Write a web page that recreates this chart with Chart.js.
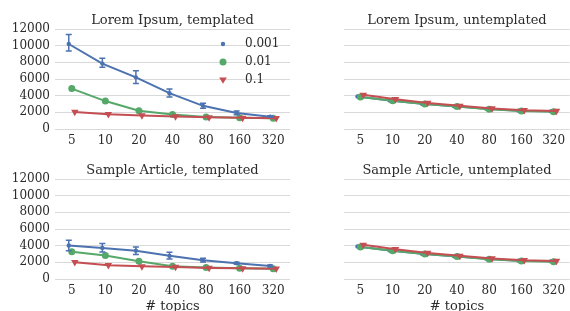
<!DOCTYPE html>
<html>
<head>
<meta charset="utf-8">
<script src="https://cdn.jsdelivr.net/npm/chart.js@4.4.0/dist/chart.umd.min.js"></script>
<style>
  html, body { margin: 0; padding: 0; background: #fff; overflow: hidden; width: 570px; height: 311px; }
  .panel { position: absolute; }
</style>
</head>
<body>
<div class="panel" style="left:0;top:0"><canvas id="lorem_tpl" width="300" height="150"></canvas></div>
<div class="panel" style="left:340px;top:0"><canvas id="lorem_unt" width="234" height="150"></canvas></div>
<div class="panel" style="left:0;top:150px"><canvas id="sample_tpl" width="300" height="164"></canvas></div>
<div class="panel" style="left:340px;top:150px"><canvas id="sample_unt" width="234" height="164"></canvas></div>
<script>
// x categories and series names
const topics = ["5", "10", "20", "40", "80", "160", "320"];
const seriesNames = ["0.001", "0.01", "0.1"];
const yTicks = [0, 2000, 4000, 6000, 8000, 10000, 12000];

// Lorem Ipsum, templated
const loremTplBlue = [10200, 7850, 6200, 4300, 2780, 1920, 1480];
const loremTplBlueLo = [9350, 7400, 5450, 3850, 2500, 1700, 1400];
const loremTplBlueHi = [11350, 8500, 7000, 4800, 3100, 2150, 1580];
const loremTplGreen = [4850, 3350, 2200, 1750, 1450, 1350, 1300];
const loremTplRed = [2050, 1780, 1620, 1500, 1400, 1340, 1300];

// Lorem Ipsum, untemplated
const loremUntBlue = [3900, 3420, 3030, 2720, 2420, 2200, 2120];
const loremUntGreen = [3850, 3400, 3000, 2700, 2380, 2170, 2080];
const loremUntRed = [4100, 3580, 3120, 2780, 2460, 2250, 2170];

// Sample Article, templated
const sampleTplBlue = [4020, 3730, 3400, 2780, 2260, 1890, 1560];
const sampleTplBlueLo = [3400, 3250, 2950, 2400, 2050, 1780, 1450];
const sampleTplBlueHi = [4650, 4250, 3850, 3200, 2480, 2020, 1680];
const sampleTplGreen = [3280, 2830, 2130, 1530, 1370, 1290, 1240];
const sampleTplRed = [2010, 1660, 1520, 1440, 1320, 1280, 1240];

// Sample Article, untemplated
const sampleUntBlue = [3900, 3420, 3030, 2720, 2420, 2200, 2120];
const sampleUntGreen = [3850, 3400, 3000, 2700, 2380, 2170, 2080];
const sampleUntRed = [4100, 3580, 3120, 2780, 2460, 2250, 2170];

const colors = ["#4C72B0", "#55A868", "#C44E52"];
const dodge = [-0.09, 0, 0.09];
const pointSizes = [2.2, 3.5, 4.3];
const FONT = "'DejaVu Serif', serif";
const TEXT = "#2b2b2b";

function drawMarker(ctx, i, x, y) {
  ctx.save();
  ctx.fillStyle = colors[i];
  ctx.beginPath();
  if (i === 2) {
    const r = pointSizes[i];
    ctx.moveTo(x - r * 0.9, y - r * 0.6);
    ctx.lineTo(x + r * 0.9, y - r * 0.6);
    ctx.lineTo(x, y + r * 0.9);
    ctx.closePath();
  } else {
    ctx.arc(x, y, pointSizes[i], 0, Math.PI * 2);
  }
  ctx.fill();
  ctx.restore();
}

// panel titles, centred over the plot area
const panelTitle = {
  id: "panelTitle",
  afterDraw(chart, args, opts) {
    const { ctx, chartArea } = chart;
    ctx.save();
    ctx.font = "13px " + FONT;
    ctx.fillStyle = TEXT;
    ctx.textAlign = "center";
    ctx.textBaseline = "alphabetic";
    ctx.fillText(opts.text, (chartArea.left + chartArea.right) / 2, chartArea.top - 5);
    ctx.restore();
  }
};

// vertical error bars with caps
const errorBars = {
  id: "errorBars",
  afterDatasetsDraw(chart) {
    const { ctx } = chart;
    const yScale = chart.scales.y;
    chart.data.datasets.forEach((ds, di) => {
      if (!ds.errLo) return;
      const meta = chart.getDatasetMeta(di);
      ctx.save();
      ctx.strokeStyle = ds.borderColor;
      ctx.lineWidth = 1.5;
      meta.data.forEach((pt, i) => {
        const yLo = yScale.getPixelForValue(ds.errLo[i]);
        const yHi = yScale.getPixelForValue(ds.errHi[i]);
        ctx.beginPath();
        ctx.moveTo(pt.x, yLo); ctx.lineTo(pt.x, yHi);
        ctx.moveTo(pt.x - 3, yLo); ctx.lineTo(pt.x + 3, yLo);
        ctx.moveTo(pt.x - 3, yHi); ctx.lineTo(pt.x + 3, yHi);
        ctx.stroke();
      });
      ctx.restore();
    });
  }
};

// legend inside the first panel
const innerLegend = {
  id: "innerLegend",
  afterDraw(chart, args, opts) {
    if (!opts.show) return;
    const { ctx, chartArea } = chart;
    ctx.save();
    ctx.font = "12px " + FONT;
    ctx.textBaseline = "middle";
    seriesNames.forEach((name, i) => {
      const x = chartArea.right - 67;
      const y = chartArea.top + 15 + i * 18;
      drawMarker(ctx, i, x, y);
      ctx.fillStyle = TEXT;
      ctx.fillText(name, x + 22, y);
    });
    ctx.restore();
  }
};

function makePanel(id, title, values, errLo, errHi, opts) {
  const datasets = values.map((vals, s) => ({
    label: seriesNames[s],
    data: vals.map((v, i) => ({ x: i + dodge[s], y: v })),
    borderColor: colors[s],
    backgroundColor: colors[s],
    borderWidth: 2,
    pointRadius: pointSizes[s],
    pointBorderWidth: 0,
    pointStyle: s === 2 ? "triangle" : "circle",
    pointRotation: s === 2 ? 180 : 0,
    tension: 0,
    order: 2 - s,
    errLo: s === 0 ? errLo : null,
    errHi: s === 0 ? errHi : null
  }));

  new Chart(document.getElementById(id), {
    type: "line",
    data: { datasets },
    options: {
      responsive: false,
      animation: false,
      layout: { padding: { top: 29, right: opts.showY ? 10 : 0, left: 0, bottom: 0 } },
      scales: {
        x: {
          type: "linear",
          min: -0.5,
          max: 6.5,
          afterBuildTicks: (s) => { s.ticks = topics.map((t, i) => ({ value: i })); },
          afterFit: (s) => { s.height = opts.xHeight; },
          grid: { display: false, drawTicks: false },
          border: { display: false },
          ticks: {
            callback: (v) => topics[v],
            font: { family: FONT, size: 12 },
            color: TEXT,
            padding: 5,
            maxRotation: 0,
            autoSkip: false
          },
          title: {
            display: opts.xTitle,
            text: "# topics",
            font: { family: FONT, size: 13 },
            color: TEXT,
            padding: 0
          }
        },
        y: {
          min: 0,
          max: 12000,
          afterBuildTicks: (s) => { s.ticks = yTicks.map((v) => ({ value: v })); },
          afterFit: (s) => { s.width = opts.showY ? 55 : 0; },
          grid: { color: "#d9d9d9", lineWidth: 1, drawTicks: false },
          border: { display: false },
          ticks: {
            display: opts.showY,
            callback: (v) => String(v),
            autoSkip: false,
            font: { family: FONT, size: 12 },
            color: TEXT,
            padding: 5
          }
        }
      },
      plugins: {
        legend: { display: false },
        tooltip: { enabled: false },
        panelTitle: { text: title },
        innerLegend: { show: !!opts.legend }
      }
    },
    plugins: [panelTitle, errorBars, innerLegend]
  });
}

makePanel("lorem_tpl", "Lorem Ipsum, templated",
  [loremTplBlue, loremTplGreen, loremTplRed], loremTplBlueLo, loremTplBlueHi,
  { showY: true, xHeight: 21, xTitle: false, legend: true });
makePanel("lorem_unt", "Lorem Ipsum, untemplated",
  [loremUntBlue, loremUntGreen, loremUntRed], null, null,
  { showY: false, xHeight: 21, xTitle: false });
makePanel("sample_tpl", "Sample Article, templated",
  [sampleTplBlue, sampleTplGreen, sampleTplRed], sampleTplBlueLo, sampleTplBlueHi,
  { showY: true, xHeight: 35, xTitle: true });
makePanel("sample_unt", "Sample Article, untemplated",
  [sampleUntBlue, sampleUntGreen, sampleUntRed], null, null,
  { showY: false, xHeight: 35, xTitle: true });
</script>
</body>
</html>
